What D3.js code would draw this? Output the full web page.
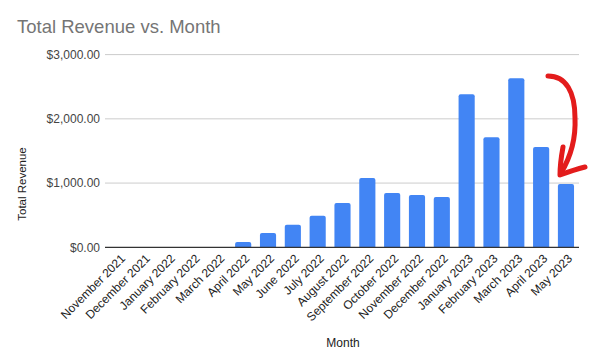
<!DOCTYPE html>
<html><head><meta charset="utf-8">
<script src="https://cdn.jsdelivr.net/npm/d3@7"></script>
<style>body{margin:0;background:#fff}svg{display:block}text{font-family:"Liberation Sans",Arial,sans-serif}</style>
</head><body>
<svg id="c" width="595" height="364"></svg>
<script>
const months = ["November 2021","December 2021","January 2022","February 2022","March 2022","April 2022","May 2022","June 2022","July 2022","August 2022","September 2022","October 2022","November 2022","December 2022","January 2023","February 2023","March 2023","April 2023","May 2023"];
const revenue = [0,0,0,0,0,82,222,352,492,689,1078,844,813,782,2384,1715,2633,1560,985];
const yTicks = [0,1000,2000,3000];
const title = "Total Revenue vs. Month";
const xTitle = "Month";
const yTitle = "Total Revenue";

const svg = d3.select("#c");
const x = d3.scaleBand().domain(months).range([106,579]).paddingInner(0.35).paddingOuter(0.2);
const y = d3.scaleLinear().domain([0,3000]).range([247.3,54.6]);
const fmt = d => "$" + d3.format(",.2f")(d);

// gridlines
svg.append("g").selectAll("line").data(yTicks.filter(d=>d>0)).join("line")
  .attr("x1",105).attr("x2",579).attr("y1",d=>y(d)).attr("y2",d=>y(d))
  .attr("stroke","#cccccc").attr("stroke-width",1);

// y tick labels
svg.append("g").selectAll("text").data(yTicks).join("text")
  .attr("x",100).attr("y",d=>y(d)).attr("dy","0.35em").attr("text-anchor","end")
  .attr("font-size",12).attr("fill","#444").text(fmt);

// bars
svg.append("g").selectAll("path").data(months.map((m,i)=>({m,v:revenue[i]})).filter(d=>d.v>0)).join("path")
  .attr("fill","#4285f4")
  .attr("d",d=>{
    const x0=x(d.m), w=x.bandwidth(), y0=y(d.v), y1=y(0), r=Math.min(2,(y1-y0)/2);
    return `M${x0},${y1}V${y0+r}Q${x0},${y0} ${x0+r},${y0}H${x0+w-r}Q${x0+w},${y0} ${x0+w},${y0+r}V${y1}Z`;
  });

// baseline
svg.append("line").attr("x1",105).attr("x2",579).attr("y1",y(0)).attr("y2",y(0))
  .attr("stroke","#333").attr("stroke-width",1.2);

// x labels
svg.append("g").selectAll("text").data(months).join("text")
  .attr("transform",d=>`translate(${x(d)+x.bandwidth()/2+4},${y(0)+9}) rotate(-45)`)
  .attr("text-anchor","end").attr("dy","0.35em").attr("font-size",12).attr("fill","#222").text(d=>d);

// titles
svg.append("text").attr("x",17).attr("y",33).attr("font-size",18.5).attr("fill","#757575").text(title);
svg.append("text").attr("x",343).attr("y",347).attr("text-anchor","middle").attr("font-size",12).attr("fill","#222").text(xTitle);
svg.append("text").attr("transform","translate(26,184) rotate(-90)").attr("text-anchor","middle").attr("font-size",11.5).attr("fill","#222").text(yTitle);

// hand-drawn annotation arrow
svg.append("path").attr("d","M548,76 C566,76 575,92 575,118 C576,140 570,158 561,173")
  .attr("fill","none").attr("stroke","#e31c1c").attr("stroke-width",5).attr("stroke-linecap","round");
svg.append("path").attr("d","M563,147 C561,158 560,166 560,175 C568,172 577,169 585,167")
  .attr("fill","none").attr("stroke","#e31c1c").attr("stroke-width",5).attr("stroke-linecap","round").attr("stroke-linejoin","round");
</script>
</body></html>
